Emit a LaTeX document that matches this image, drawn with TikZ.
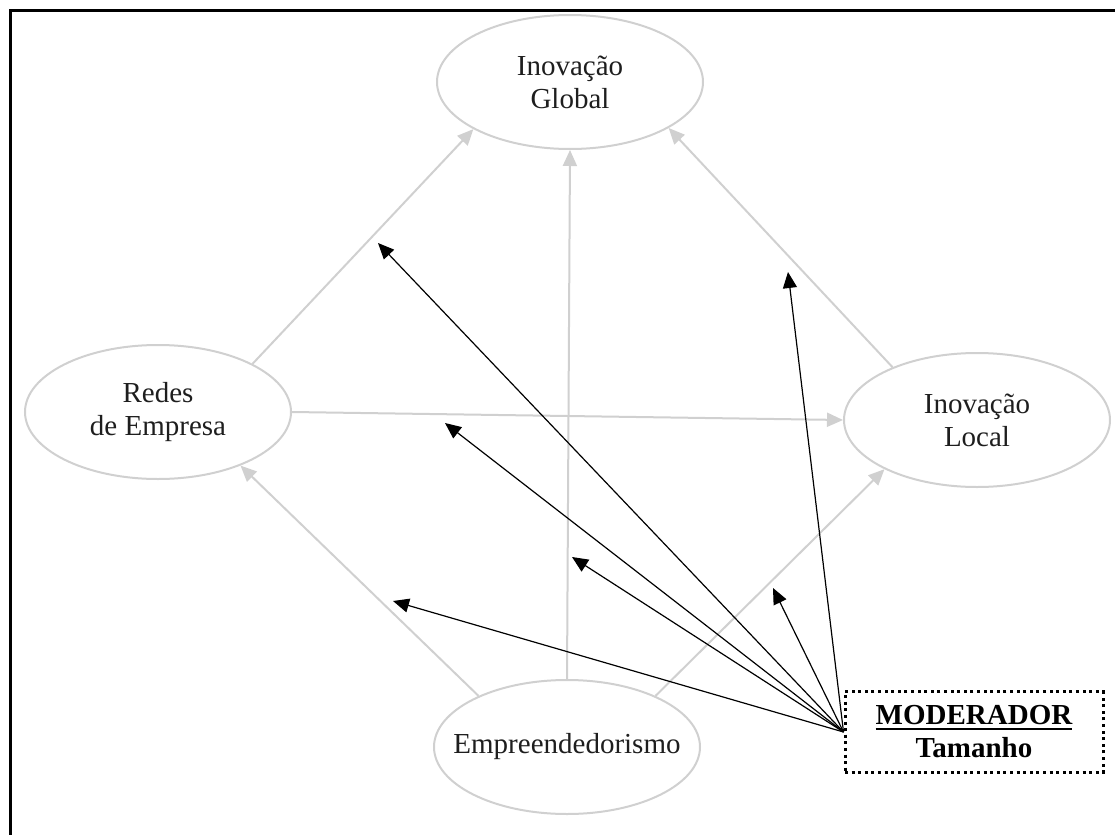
\documentclass[tikz,border=0pt]{standalone}
\usepackage{fontspec}
\setmainfont{Liberation Serif}
\usetikzlibrary{arrows.meta,shapes.geometric}
\definecolor{edgegray}{RGB}{208,208,208}
\definecolor{textdark}{RGB}{30,30,30}
% underline with a heavier rule than \underline
\newcommand\heavyul[1]{\setbox0=\hbox{#1}\leavevmode\rlap{\copy0}\rule[-2.6pt]{\wd0}{1pt}}
\begin{document}
\begin{tikzpicture}[x=0.5pt,y=-0.5pt,
  construct/.style={ellipse, draw=edgegray, line width=1pt,
    minimum width=133pt, minimum height=67pt, inner sep=0pt,
    align=center, text=textdark, font=\fontsize{14.5}{16.5}\selectfont},
  relation/.style={draw=edgegray, line width=1pt,
    -{Triangle[length=8pt,width=7pt]}},
  moderation/.style={draw=black, line width=0.6pt,
    -{Triangle[length=8pt,width=7pt]}},
  modbox/.style={rectangle, draw=black, line width=1.5pt,
    dash pattern=on 1.5pt off 1.8pt, minimum width=129pt,
    minimum height=40.5pt, inner sep=0pt, align=center,
    font=\fontsize{14.5}{16.5}\selectfont\bfseries}]
\useasboundingbox (0,0) rectangle (1115,835);

% frame (top and left edges)
\draw[line width=1.5pt] (10,835) -- (10,10) -- (1115,10);

% constructs
\node[construct] (global) at (570,82) {Inovação\\Global};
\node[construct] (redes) at (158,412) {Redes\\de Empresa};
\node[construct] (local) at (977,420) {Inovação\\Local};
\node[construct] (emp) at (567,747) {\makebox[0pt][c]{Empreendedorismo}};

% moderator
\node[modbox] (mod) at (974,732) {\heavyul{MODERADOR}\\Tamanho};

% structural relations
\draw[relation] (redes.27) -- (global.206);
\draw[relation] (emp.north) -- (global.south);
\draw[relation] (local.148) -- (global.335);
\draw[relation] (redes.east) -- (local.west);
\draw[relation] (emp.150) -- (redes.327);
\draw[relation] (emp.30) -- (local.208);

% moderating effects on each relation
\coordinate (m1) at (378,243);
\coordinate (m2) at (445,423);
\coordinate (m3) at (572,557);
\coordinate (m4) at (393,601);
\coordinate (m5) at (773,588);
\coordinate (m6) at (788,272);
\foreach \t in {m1,m2,m3,m4,m5,m6}
  \draw[moderation] (mod.west) -- (\t);
\end{tikzpicture}
\end{document}
